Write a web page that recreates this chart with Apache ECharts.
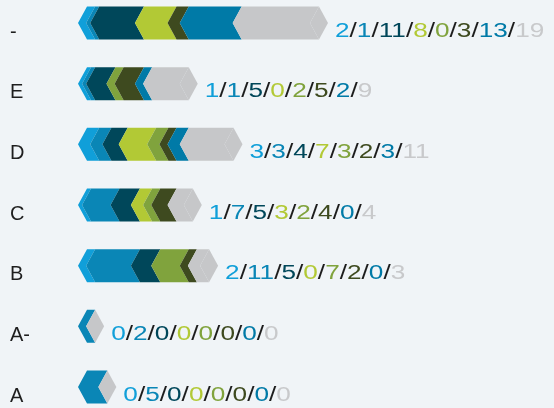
<!DOCTYPE html>
<html>
<head>
<meta charset="utf-8">
<script src="https://cdn.jsdelivr.net/npm/echarts@6/dist/echarts.min.js"></script>
<style>
html, body { margin: 0; padding: 0; background: #f0f4f7; }
#chart { width: 554px; height: 408px; }
</style>
</head>
<body>
<div id="chart"></div>
<script>
// categories, bottom to top
let categories = ['A', 'A-', 'B', 'C', 'D', 'E', '-']
// one array per segment, same order as categories
let brightBlue = [0, 0, 2, 1, 3, 1, 2]
let midBlue = [5, 2, 11, 7, 3, 1, 1]
let darkTeal = [0, 0, 5, 5, 4, 5, 11]
let lime = [0, 0, 0, 3, 7, 0, 8]
let olive = [0, 0, 7, 2, 3, 2, 0]
let darkOlive = [0, 0, 2, 4, 2, 5, 3]
let blue = [0, 0, 0, 0, 3, 2, 13]
let grey = [0, 0, 3, 4, 11, 9, 19]

let seriesList = [brightBlue, midBlue, darkTeal, lime, olive, darkOlive, blue, grey]
//颜色数组
let colors = ['#109fd9', '#0a86b6', '#00475a', '#b2c935', '#80a33d', '#3e4a1f', '#007aa7', '#c6c7c9']
let labelColors = ['#109fd9', '#0a86b6', '#00475a', '#b2c935', '#80a33d', '#3e4a1f', '#007aa7', '#c8c9cb']

let rows = categories.map((c, i) => [i].concat(seriesList.map(s => s[i])))

let rich = { sl: { fill: '#1c1c1c', color: '#1c1c1c', fontSize: 20, fontFamily: 'Liberation Sans' } }
labelColors.forEach((c, k) => {
    rich['c' + k] = { fill: c, color: c, fontSize: 20, fontFamily: 'Liberation Sans' }
})

let labelText = (i) => {
    return seriesList.map((s, k) => '{c' + k + '|' + s[i] + '}').join('{sl|/}')
}

let barH = 33
let tip = 9

let renderItem = function (params, api) {
    let idx = api.value(0)
    let cy = api.coord([0, idx])[1]
    let top = cy - barH / 2
    let bot = cy + barH / 2
    let children = []
    let sum = 0
    for (let k = 0; k < 8; k++) {
        let v = api.value(k + 1)
        if (!v) continue
        let L = api.coord([sum, idx])[0]
        sum += v
        let R = api.coord([sum, idx])[0]
        children.push({
            type: 'polygon',
            shape: { points: [[L, cy], [L + tip, top], [R + tip, top], [R, cy], [R + tip, bot], [L + tip, bot]] },
            style: { fill: colors[k] }
        })
    }
    // grey end cap
    let end = api.coord([sum, idx])[0]
    children.push({
        type: 'polygon',
        shape: { points: [[end, cy], [end + tip, top], [end + 2 * tip, cy], [end + tip, bot]] },
        style: { fill: colors[7] }
    })
    // value label, text is a bit wide in the original
    children.push({
        type: 'text',
        x: end + 2 * tip + 7,
        y: cy + 8,
        scaleX: 1.31,
        style: {
            text: labelText(idx),
            rich: rich,
            align: 'left',
            verticalAlign: 'middle',
            fontSize: 20,
            fontFamily: 'Liberation Sans'
        }
    })
    return { type: 'group', children: children }
}

let myChart = echarts.init(document.getElementById('chart'))
let option = {
    backgroundColor: '#f0f4f7',
    animation: false,
    grid: { left: 78, top: 23, width: 244.2, height: 364 },
    xAxis: {
        type: 'value',
        min: 0,
        max: 60,
        show: false
    },
    yAxis: {
        type: 'category',
        data: categories,
        boundaryGap: false,
        axisLine: { show: false },
        axisTick: { show: false },
        splitLine: { show: false },
        axisLabel: {
            align: 'left',
            verticalAlign: 'top',
            lineHeight: 18,
            margin: 68,
            fontSize: 20,
            fontFamily: 'Liberation Sans',
            color: '#1e1e1e'
        }
    },
    series: [{
        type: 'custom',
        renderItem: renderItem,
        encode: { x: 1, y: 0 },
        data: rows
    }]
}
myChart.setOption(option)
window.addEventListener('resize', function () {
    myChart.resize()
})
</script>
</body>
</html>
